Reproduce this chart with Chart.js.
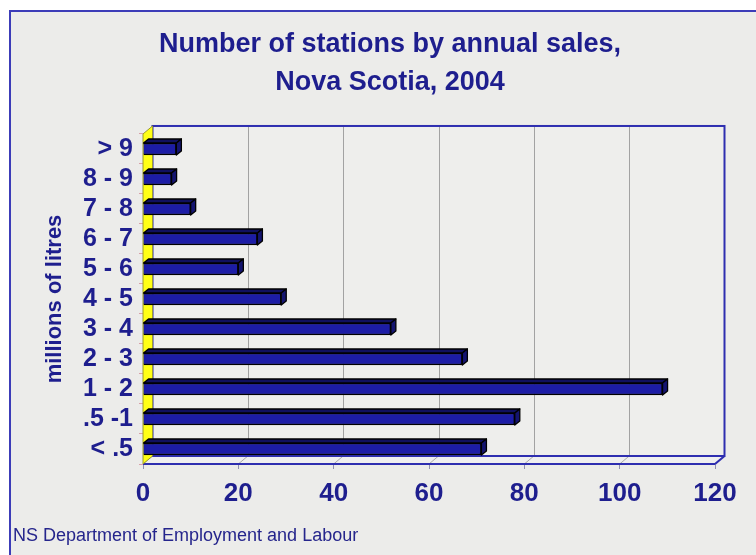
<!DOCTYPE html>
<html>
<head>
<meta charset="utf-8">
<script src="https://cdn.jsdelivr.net/npm/chart.js@4.4.1/dist/chart.umd.min.js"></script>
<style>
  html, body { margin: 0; padding: 0; background: #ffffff; width: 756px; height: 555px; overflow: hidden; }
  #frame { position: absolute; left: 9px; top: 10px; width: 780px; height: 580px;
           border-left: 2px solid #3c3cb8; border-top: 2px solid #3c3cb8; background: #ececea; }
  #wrap { position: absolute; left: 0; top: 0; width: 756px; height: 555px; }
</style>
</head>
<body>
<div id="frame"></div>
<div id="wrap"><canvas id="c" width="756" height="555"></canvas></div>
<script>
// ---- data ----
const categories = ['> 9', '8 - 9', '7 - 8', '6 - 7', '5 - 6', '4 - 5', '3 - 4', '2 - 3', '1 - 2', '.5 -1', '< .5'];
const stations = [7, 6, 10, 24, 20, 29, 52, 67, 109, 78, 71];
const xTicks = [0, 20, 40, 60, 80, 100, 120];
const titleLines = ['Number of stations by annual sales,', 'Nova Scotia, 2004'];
const axisTitle = 'millions of litres';
const sourceNote = 'NS Department of Employment and Labour';

// ---- styling ----
const FONT = '"Liberation Sans", Arial, Helvetica, sans-serif';
const NAVY = '#1e1e8e';
const EDGE = '#2e2eb0';
const DEPTH = { dx: 9.5, dy: -8 };
const BAR_DEPTH = { dx: 5, dy: -4 };

function poly(ctx, pts, fill, stroke, lw) {
  ctx.beginPath();
  ctx.moveTo(pts[0][0], pts[0][1]);
  for (let i = 1; i < pts.length; i++) ctx.lineTo(pts[i][0], pts[i][1]);
  ctx.closePath();
  if (fill) { ctx.fillStyle = fill; ctx.fill(); }
  if (stroke) { ctx.strokeStyle = stroke; ctx.lineWidth = lw || 1; ctx.stroke(); }
}
function seg(ctx, x1, y1, x2, y2, color, lw) {
  ctx.beginPath(); ctx.moveTo(x1, y1); ctx.lineTo(x2, y2);
  ctx.strokeStyle = color; ctx.lineWidth = lw || 1; ctx.stroke();
}

const box3d = {
  id: 'box3d',
  beforeDatasetsDraw(chart) {
    const { ctx, chartArea: a, scales: { x } } = chart;
    const { dx, dy } = DEPTH;
    const w = a.right - a.left, h = a.bottom - a.top;
    ctx.save();
    // back wall
    ctx.fillStyle = '#eeeeec';
    ctx.fillRect(a.left + dx, a.top + dy, w, h);
    // back wall grid lines
    xTicks.forEach(v => {
      if (v <= x.min || v >= x.max) return;
      const px = Math.round(x.getPixelForValue(v) + dx) + 0.5;
      seg(ctx, px, a.top + dy, px, a.bottom + dy, '#a2a2a2', 1);
    });
    // floor
    poly(ctx, [[a.left, a.bottom], [a.right, a.bottom], [a.right + dx, a.bottom + dy], [a.left + dx, a.bottom + dy]], '#efefef', null);
    xTicks.forEach(v => {
      const px = x.getPixelForValue(v);
      seg(ctx, px, a.bottom, px + dx, a.bottom + dy, '#a8a8a8', 1);
    });
    seg(ctx, a.left + dx, a.bottom + dy, a.right + dx, a.bottom + dy, EDGE, 2);
    seg(ctx, a.left, a.bottom, a.right, a.bottom, EDGE, 2);
    seg(ctx, a.right, a.bottom, a.right + dx, a.bottom + dy, EDGE, 2);
    // back wall outline
    ctx.strokeStyle = EDGE; ctx.lineWidth = 2;
    ctx.strokeRect(a.left + dx, a.top + dy, w, h);
    // left (yellow) wall
    poly(ctx, [[a.left, a.top], [a.left + dx, a.top + dy], [a.left + dx, a.bottom + dy], [a.left, a.bottom]], '#ffff14', '#9a9a30', 1);
    ctx.restore();
  },
  afterDatasetsDraw(chart) {
    const { ctx } = chart;
    const { dx, dy } = BAR_DEPTH;
    ctx.save();
    ctx.lineJoin = 'round';
    chart.getDatasetMeta(0).data.forEach(bar => {
      const { x, y, base, height } = bar.getProps(['x', 'y', 'base', 'height'], true);
      const t = y - height / 2, b = y + height / 2;
      poly(ctx, [[base, t], [x, t], [x + dx, t + dy], [base + dx, t + dy]], '#10105e', '#000000', 1.3);
      poly(ctx, [[x, t], [x + dx, t + dy], [x + dx, b + dy], [x, b]], '#141470', '#000000', 1.3);
    });
    ctx.restore();
  },
  afterDraw(chart) {
    const { ctx } = chart;
    ctx.save();
    ctx.font = '18px ' + FONT;
    ctx.fillStyle = '#25258c';
    ctx.textAlign = 'left';
    ctx.textBaseline = 'alphabetic';
    ctx.fillText(sourceNote, 13, 541);
    ctx.restore();
  }
};

new Chart(document.getElementById('c'), {
  type: 'bar',
  data: {
    labels: categories,
    datasets: [{
      data: stations,
      yAxisID: 'y',
      backgroundColor: '#1c1ca6',
      borderColor: '#000000',
      borderWidth: 1.5,
      barThickness: 12
    }]
  },
  plugins: [box3d],
  options: {
    indexAxis: 'y',
    responsive: false,
    animation: false,
    devicePixelRatio: 1,
    layout: { padding: { left: 24, right: 0, top: 0, bottom: 0 } },
    plugins: {
      legend: { display: false },
      tooltip: { enabled: false },
      title: {
        display: true,
        text: titleLines,
        color: NAVY,
        font: { family: FONT, size: 27, weight: 'bold', lineHeight: 1.407 },
        padding: { top: 25.5, bottom: 32.5 }
      }
    },
    scales: {
      y: {
        type: 'category',
        position: 'left',
        afterFit: s => { s.width = 119; },
        grid: { display: true, drawOnChartArea: false, drawTicks: true, tickLength: 4, color: '#d8a0a8', offset: true },
        border: { display: false },
        ticks: { color: NAVY, padding: 6, autoSkip: false, font: { family: FONT, size: 25, weight: 'bold' } },
        title: {
          display: true, text: axisTitle, color: NAVY,
          font: { family: FONT, size: 22, weight: 'bold', lineHeight: 1.2 },
          padding: { top: 17.8, bottom: 0 }
        }
      },
      yR: {
        type: 'linear',
        axis: 'y',
        position: 'right',
        afterFit: s => { s.width = 41; },
        grid: { display: false },
        border: { display: false },
        ticks: { display: false }
      },
      x: {
        type: 'linear',
        min: 0, max: 120,
        afterBuildTicks: s => { s.ticks = xTicks.map(v => ({ value: v })); },
        afterFit: s => { s.height = 91; },
        grid: { display: true, drawOnChartArea: false, drawTicks: true, tickLength: 5, color: '#9090b0' },
        border: { display: false },
        ticks: { color: NAVY, padding: 9, font: { family: FONT, size: 26, weight: 'bold' } }
      }
    }
  }
});
</script>
</body>
</html>
